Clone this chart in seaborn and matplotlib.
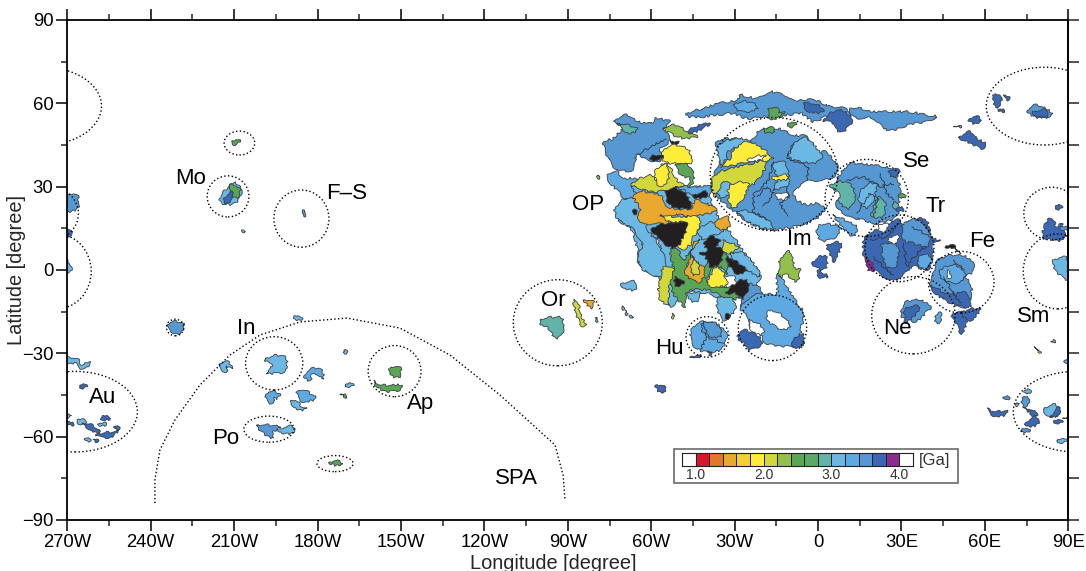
import matplotlib
matplotlib.use('Agg')
import matplotlib.pyplot as plt
import seaborn as sns
import numpy as np
import pandas as pd
from matplotlib.colors import ListedColormap, BoundaryNorm
from matplotlib.patches import Ellipse, Rectangle, PathPatch
from matplotlib.path import Path

# age bins of the colour scale [Ga]
age_edges = [0.8, 1.0, 1.2, 1.4, 1.6, 1.8, 2.0, 2.2, 2.4, 2.6, 2.8, 3.0, 3.2, 3.4, 3.6, 3.8, 4.0, 4.2]
age_colors = ['#ffffff', '#d7182a', '#e2762a', '#e9a82e', '#f3cf34', '#fdec3a', '#d2d83c', '#93c04c',
              '#5aa655', '#5aa86a', '#62b3a8', '#6cb8e4', '#5fa9e2', '#5698d2', '#3b68b3', '#8b2a92', '#ffffff']
cbar_ticks = [1.0, 2.0, 3.0, 4.0]

x_ticks = list(range(-270, 91, 30))
x_labels = ['270W', '240W', '210W', '180W', '150W', '120W', '90W', '60W', '30W', '0', '30E', '60E', '90E']
y_ticks = [-90, -60, -30, 0, 30, 60, 90]
y_labels = ['\u221290', '\u221260', '\u221230', '0', '30', '60', '90']

# (age, outline in lon/lat); None = unit without fit (black), 0.9 = hole
units_north = [
    (3.5, [(-47.2,56.4),(-41.2,58.2),(-36.4,59.8),(-29.2,61.2),(-28,63),(-22,61.8),(-17.2,64.2),(-11.2,62.6),(-8.8,61),(-1.6,61.2),(4.4,58.8),(9.2,58.2),(11.6,56.4),(10.4,54),(3.2,55.2),(-1.6,53.4),(-6.4,56.4),(-13.6,55.2),(-18.4,55.2),(-25.6,54.6),(-30.4,56.4),(-36.4,55.8),(-41.2,55.2),(-46,55.2)]),
    (3.3, [(-30,60),(-24,60.5),(-22,58),(-28,57)]),
    (3.7, [(-4,60.5),(2,58),(0,56.5),(-5,58)]),
    (2.5, [(-18,58),(-15,58.5),(-14,57),(-12,57),(-14,55),(-17,54.5)]),
    (3.7, [(-41.2,52.8),(-38.8,52.8),(-42.4,50.4),(-46,49.2),(-45.4,51)]),
    (3.5, [(11.5,58.2),(15.1,58.2),(19.9,57),(31.9,57),(39.1,55.8),(42.7,55.2),(39.1,53.4),(34.3,52.8),(27.1,50.4),(24.7,50.4),(19.9,54.6),(15.1,54.6),(11.5,55.8)]),
    (3.7, [(1.9,54),(6.7,57.6),(10.3,56.4),(12.1,53.4),(9.1,49.8),(6.7,50.4),(5.5,52.8)]),
    (3.5, [(48.7,51.6),(51.1,52.2),(51.1,51.4)]),
    (3.7, [(54.1,54),(56.5,55.4),(58.9,54),(56.5,52.6)]),
    (3.7, [(50.5,47.8),(54.7,49.8),(57.1,47.4),(60.1,45.6),(58.9,43.8),(54.7,45.6),(51.7,47)]),
    (3.7, [(63.1,63),(65.5,63),(65.7,59.4),(63.7,58.8)]),
    (3.7, [(66.7,63),(69.1,62.4),(67.9,61.2)]),
    (3.7, [(64.9,57.8),(66.7,58.2),(66.7,57),(64.9,57)]),
    (3.5, [(75.1,57),(78.7,59.4),(84.1,56.4),(79.9,54.6)]),
    (3.7, [(77.5,57),(82.3,57.6),(82.3,55.2),(78.7,55.2)]),
]

units_op = [
    (3.1, [(-67,31.2),(-68.8,25.8),(-72.4,22.2),(-71.8,18),(-67,14.4),(-64.6,6),(-64,1.2),(-56.8,-3.6),(-53.2,-13.2),(-47.2,-8.4),(-40,-8.4),(-32.8,-10.8),(-25.6,-8.4),(-20.8,-2.4),(-25.6,4.8),(-30.4,12),(-35.2,18),(-40,27.6),(-44.8,30),(-54.4,28.8)]),
    (0.9, [(-63.4,10.8),(-58.6,12),(-56.8,7.2),(-61,6)]),
    (0.9, [(-34,-2.4),(-30.4,-2.4),(-29.2,-6),(-32.8,-6)]),
    (3.5, [(-73,54),(-68.8,55.8),(-64.6,53.4),(-59.8,52.8),(-58.6,54.6),(-53.2,53.4),(-55.6,50.4),(-53.2,48.6),(-53.8,45.6),(-56.8,43.8),(-55.6,40.8),(-58,39),(-62.2,40.2),(-65.2,41.4),(-67,36),(-73.6,37.2),(-77.2,45.6),(-73.6,47.4),(-70,51.6),(-73,52.8)]),
    (2.9, [(-72,52.8),(-65,51),(-68,49.2)]),
    (2.3, [(-55.6,51),(-50.8,52.2),(-47.2,49.8),(-43.6,48),(-48.4,47.4),(-52,48.6)]),
    (3.3, [(-76,34.2),(-72.4,35.4),(-70,33),(-66.4,33),(-64,31.8),(-67,30),(-65.2,27),(-68.8,25.2),(-72.4,28.8),(-74.8,31.2)]),
    (3.1, [(-73,22.2),(-68.8,25.8),(-61.6,24.6),(-61.6,15.6),(-56.8,8.4),(-54.4,1.2),(-56.8,-2.4),(-60.4,-1.2),(-64,1.2),(-64.6,6),(-62.8,8.4),(-67,15),(-71.8,18)]),
    (1.9, [(-55.6,43.2),(-51.4,45),(-46.6,43.2),(-46,38.4),(-52,38.4),(-55.6,39)]),
    (None, [(-59.8,41.4),(-56,41),(-57,39.6),(-60,39.5)]),
    (None, [(-53,46.2),(-50,46.4),(-52,45)]),
    (2.5, [(-51.4,37.8),(-49,38.4),(-45.4,36.6),(-44.8,31.8),(-47.2,30),(-46,33),(-48.4,33.6),(-50.2,35.4)]),
    (2.1, [(-67,31.2),(-60.4,34.2),(-58,32.4),(-56.8,37.2),(-54.4,38.4),(-52,34.8),(-50.8,32.4),(-48.4,30),(-54.4,28.8),(-59.2,28.2),(-64,29.4)]),
    (1.9, [(-58.6,36),(-54.4,37.8),(-53.8,33),(-55.6,30.6),(-58,31.2)]),
    (3.3, [(-51.4,30),(-44.8,30),(-38.8,30),(-38.8,27),(-44.8,26.4),(-48.4,28.8)]),
    (1.5, [(-66.4,26.4),(-64,28.2),(-56.8,27),(-55.6,24),(-52,22.2),(-46,22.2),(-43.6,25.2),(-36.4,21.6),(-42.4,19.8),(-44.8,19.2),(-52,19.8),(-54.4,16.8),(-58,16.8),(-64,16.8),(-64.6,21),(-64,22.2)]),
    (None, [(-55,28.2),(-51.4,29.4),(-47.8,27.6),(-45.8,24),(-46.6,22.2),(-50.8,22.2),(-53.8,24)]),
    (None, [(-44.8,27),(-40,28.2),(-40,26.4),(-43.6,25.8)]),
    (None, [(-66.5,21.8),(-65,21.8),(-65.5,20.3),(-66.8,20.5)]),
    (1.9, [(-56.8,19.8),(-52,19.2),(-44.8,19.2),(-42.4,18.6),(-43,14.4),(-44.8,12),(-45.4,9.6),(-49,7.2),(-50.8,9.6),(-47.2,16.8),(-53.2,17.4)]),
    (3.1, [(-42.4,15.6),(-36.4,17.4),(-34,14.4),(-38.8,12),(-41.2,10.8),(-43,13.2)]),
    (1.5, [(-36.4,18),(-32.8,19.2),(-31.6,16.2),(-34,14.4),(-36.4,15.6)]),
    (2.5, [(-53.2,7.2),(-50.8,7.8),(-48.4,3.6),(-46.6,6),(-45.4,4.8),(-47.2,0),(-42.4,-3.6),(-41.2,1.2),(-34,7.2),(-32.8,-1.2),(-35.2,1.2),(-38.8,0),(-39.4,-4.8),(-30.4,-6.6),(-28,-9.6),(-32.8,-10.8),(-36.4,-8.4),(-40,-7.2),(-44.8,-7.2),(-47.2,-8.4),(-47.8,-13.2),(-50.2,-10.8),(-52,-8.4),(-53.2,-3.6),(-52,0)]),
    (None, [(-59.8,15),(-54.4,16.8),(-47.2,16.6),(-49,10.8),(-51.4,7.8),(-55.6,9.6),(-58,12)]),
    (None, [(-41.2,9.6),(-38.8,12),(-35.2,10.8),(-36.4,8.4),(-34,7.2),(-35.2,2.4),(-38.8,1.2),(-40.6,4.8),(-42.4,6),(-40,7.2)]),
    (2.1, [(-34,10.8),(-31.6,9.6),(-28.6,8.4),(-31.6,6),(-34,7.2)]),
    (3.1, [(-31.6,6),(-26.8,6),(-23.2,2.4),(-20.8,-2.4),(-25.6,0),(-30.4,3.6)]),
    (None, [(-32.8,4.8),(-30.4,3.6),(-25.6,0),(-29.2,-1.2),(-32.2,1.8)]),
    (1.5, [(-46.6,3),(-44.8,9.6),(-42.4,10.8),(-44.8,8.4),(-45.4,4.8),(-40.6,0),(-42.4,-4.2),(-45.4,-3.6),(-47.8,-1.2)]),
    (2.1, [(-44.8,4.8),(-42.4,-0.6),(-44.8,-1.8),(-45.4,0)]),
    (1.9, [(-36.4,1.2),(-33.4,-2.4),(-32.8,-5.4),(-37,-6),(-40,-4.8)]),
    (2.1, [(-55.6,1.2),(-52,0),(-53.8,-7.2),(-53.8,-12.6),(-57.4,-9.6),(-56.8,-3.6)]),
    (None, [(-51.4,-2.4),(-48.4,-4.2),(-49.6,-6),(-51.4,-5.4)]),
    (3.1, [(-35.2,-9.6),(-30.4,-10.8),(-29.8,-14.4),(-34,-18),(-36.4,-13.2)]),
    (None, [(-33,-15.6),(-31.5,-16),(-32,-17.4),(-33.6,-17)]),
    (3.5, [(-28,-6),(-22,-5.4),(-20.2,-9.6),(-24.4,-10.8),(-26.8,-14.4),(-28,-10.8)]),
    (None, [(-33.4,-8.4),(-28,-3.6),(-25,-4.8),(-26.8,-10.2),(-29.8,-8.4)]),
    (3.1, [(-46.6,-8.4),(-42.4,-8.4),(-43.6,-11.4),(-46,-10.8)]),
    (3.1, [(-70.6,-4.8),(-65.8,-4.2),(-65.8,-7.2),(-69.4,-6.6)]),
    (3.1, [(-70.6,-13),(-69.4,-13.4),(-69.8,-14.4)]),
    (3.1, [(-69.4,-14.4),(-68.2,-15.6),(-68.8,-16.2)]),
    (3.1, [(-67.6,-16.2),(-66.2,-16.8),(-67,-17.4)]),
    (2.1, [(-52.6,-15.6),(-51.4,-16.2),(-52.2,-17.4)]),
    (2.3, [(-79.5,34),(-78.4,34),(-78.6,32.8)]),
    (3.7, [(-58.5,-41.5),(-56,-41.5),(-54.5,-43.5),(-57,-44)]),
]

units_im = [
    (3.5, [(-36.4,46.2),(-29.2,47.4),(-24.4,46.2),(-20.8,50.4),(-14.8,51),(-8.8,48.6),(-4,48),(0.2,42),(2.6,42.6),(6.8,37.8),(6.2,34.2),(2,32.4),(-4,31.8),(-8.2,28.8),(-8.2,25.8),(-4,23.4),(0.2,24),(2,21),(-4,16.8),(-16,14.6),(-23.2,16.2),(-29.2,20.4),(-37.6,27.6),(-38.2,32.4),(-35.2,39.6)]),
    (3.1, [(-8.8,45.6),(-4,47.4),(0.8,42),(0.8,39.6),(-2.8,38.4),(-10,40.2)]),
    (3.1, [(-35.8,45),(-28.6,47.4),(-24.4,45.6),(-31.6,43.2),(-32.8,40.2),(-35.2,38.4)]),
    (3.1, [(-16,38.4),(-11.8,38.4),(-10.6,31.2),(-16,28.8),(-14.8,32.4)]),
    (3.1, [(-29.2,21),(-24.4,21),(-18.4,18),(-16,14.6),(-23.2,16.2)]),
    (3.1, [(-37.6,30),(-31.6,36),(-29.8,34.8),(-31.6,27.6),(-35.2,26.4)]),
    (2.1, [(-37.6,33.6),(-31.6,36.6),(-25.6,37.8),(-18.4,39.6),(-20.8,33.6),(-25,30),(-31.6,31.2),(-34,31.8),(-37.6,26.4)]),
    (1.9, [(-35.2,37.2),(-31.6,40.2),(-30.4,43.2),(-24.4,46.2),(-17.2,41.4),(-17.2,39.6),(-24.4,39),(-30.4,37.8)]),
    (0.9, [(-25,40.2),(-19,41.4),(-20.8,39.6),(-24.4,39.4)]),
    (1.9, [(-31.6,30.6),(-25,31.2),(-27.4,25.2),(-30.4,22.2),(-32.2,25.2)]),
    (1.9, [(-16,33.6),(-11.2,34.2),(-11.2,32.6),(-15.4,32.4)]),
    (0.9, [(-14.8,27.6),(-11.2,27.6),(-11.2,25.2),(-14.8,25.8)]),
    (2.5, [(-11,52.6),(-9.5,53.4),(-8,52.6),(-9.5,51)]),
    (2.5, [(-19.6,50.4),(-17.2,51.6),(-15.4,49.8),(-18.4,49.4)]),
    (3.2, [(0.1,16.2),(7.9,15.6),(5.5,11.4),(0.7,10.8)]),
    (3.7, [(3.1,9),(8.5,9.6),(5.5,3),(4.3,6)]),
    (3.7, [(-2.3,2.6),(2.5,5.4),(3.1,1.2),(0.7,0),(3.7,-2.4),(-0.5,-2.4),(0.1,0.6)]),
    (2.3, [(-13.7,3.6),(-10.1,6.6),(-8.3,0.6),(-6.5,0),(-7.7,-4.2),(-11.3,-1.8),(-13.7,-2.4)]),
]

units_east = [
    (3.5, [(9.1,36),(12.1,38.4),(18.7,37.8),(27.1,36),(29.5,28.8),(28.9,22.8),(28.3,19.2),(21.1,16.8),(16.3,18),(11.5,19.2),(6.7,22.8),(7.9,27.6),(5.5,30)]),
    (2.9, [(4.3,30.6),(10.3,31.8),(13.3,27.6),(11.5,22.2),(7.9,24),(7.3,27.6)]),
    (3.1, [(15.1,28.8),(21.1,31.2),(18.7,22.8),(15.1,24)]),
    (2.8, [(21.7,26.4),(24.1,24),(23.5,19.2),(19.3,19.8)]),
    (2.8, [(27.1,24.6),(28.9,24),(28.9,21.6),(27.1,22.2)]),
    (2.5, [(28.9,27),(30.1,27.8),(31.3,26.8),(30.1,25.6)]),
    (3.7, [(25.3,35.4),(27.7,36.6),(29.3,35),(27.1,33.4)]),
    (3.7, [(28.3,22.2),(30.1,23),(30.5,21.4),(28.5,21)]),
    (3.3, [(5.5,19.8),(13.9,15.6),(11.5,12.6),(6.7,18)]),
    (3.7, [(16.9,12),(21.1,14.4),(28.3,18),(30.7,16.8),(36.7,18.6),(39.1,18),(40.9,12),(43.9,10.8),(41.5,9.6),(40.9,3.6),(39.1,0),(34.3,1.2),(29.5,-2.4),(25.9,-3.6),(21.1,-0.6),(18.1,1.2),(16.3,6)]),
    (3.5, [(30.7,16.8),(36.7,18),(40.3,12),(39.1,8.4),(34.3,9.6),(30.7,10.8)]),
    (3.3, [(39.1,6),(40.9,3.6),(39.1,0.6),(36.1,1.2),(36.7,4.8)]),
    (3.5, [(23.5,9.6),(28.9,8.4),(27.7,1.2),(24.7,1.2),(22.9,6)]),
    (0.9, [(21.7,16.2),(24.7,16.8),(24.9,14.4),(22.3,13.8)]),
    (0.9, [(25.3,11.4),(28.3,12.6),(28.9,10.2),(26.5,9.6)]),
    (3.9, [(17.3,4.8),(19.3,2.4),(20.5,0),(18.1,0)]),
    (3.5, [(43.9,4.2),(51.1,5.4),(55.3,3),(55.9,-0.6),(52.9,-2.4),(55.3,-6),(53.5,-13.2),(48.7,-12),(42.7,-8.4),(40.3,-4.8),(41.5,-1.2)]),
    (3.7, [(40.3,-5.4),(46.3,-8.4),(53.5,-8.4),(54.7,-13.2),(49.3,-12.6),(42.7,-9)]),
    (3.3, [(45.1,1.2),(51.1,1.2),(52.9,-2.4),(48.7,-4.8),(43.9,-2.4)]),
    (0.9, [(46.9,0),(48.1,-2.4),(46.3,-2.4)]),
    (3.7, [(48.1,-16.2),(51.1,-15),(53.5,-18),(51.7,-22.8),(49.9,-19.8)]),
    (3.7, [(51.7,-15),(58.3,-13.8),(55.9,-17.4),(53.5,-18)]),
    (None, [(45.7,8.4),(48.1,9.2),(50.5,6.9),(51.1,6),(48.7,7.8)]),
    (3.5, [(29.7,-15),(31.9,-11.4),(36.7,-10.8),(40.3,-13.2),(39.1,-15),(35.5,-18.6),(33.1,-18),(30.7,-17.4)]),
    (3.7, [(31.3,-13.8),(36.7,-13.2),(34.3,-16.8),(32.5,-18),(31.3,-18.6)]),
    (3.3, [(42.1,-16.8),(43.7,-15),(44.5,-18),(42.7,-19.2)]),
    (3.7, [(85.3,22.8),(86.5,23.8),(87.7,22.6),(86.5,21.4)]),
    (3.7, [(82.3,18),(84.1,18.6),(85.9,15.6),(87.7,16.8),(88.3,10.8),(82.3,11.4),(80.5,12)]),
    (3.5, [(87.1,15.6),(89.5,15.8),(89.7,14.4),(87.7,14.2)]),
    (3.1, [(84.7,3.6),(89.5,4.2),(89.5,-3),(87.7,-2.4),(85.3,0)]),
    (2.9, [(83.9,-25.8),(85.3,-25.8),(84.6,-25)]),
    (2.1, [(77.7,-27.6),(80.1,-29.4),(79.3,-29.4)]),
    (3.3, [(88.3,-33),(90,-31.8),(90,-34.2)]),
]

units_south_east = [
    (3.3, [(-45.4,-21),(-41.2,-18.6),(-35.8,-19.8),(-32.8,-24),(-35.2,-28.8),(-41.2,-29.4),(-45.4,-26.4)]),
    (3.5, [(-41.2,-18.6),(-35.8,-19.8),(-35.2,-24),(-41.2,-22.8)]),
    (3.7, [(-46,-31.2),(-42.4,-30.6),(-43.6,-31.8)]),
    (3.7, [(-40,-29.4),(-38.2,-29.4),(-38.8,-30.6)]),
    (3.2, [(-14.8,-1.2),(-11.2,-6),(-7.6,-12),(-5.2,-15.6),(-6.4,-24),(-4.6,-26.4),(-8.8,-27.6),(-18.4,-26.4),(-20.8,-22.8),(-24.4,-20.4),(-25.6,-15.6),(-28,-14.4),(-24.4,-9.6),(-19.6,-8.4),(-14.8,-8.4)]),
    (0.9, [(-17.2,-14.4),(-12.4,-16.8),(-10,-20.4),(-13.6,-21),(-18.4,-18)]),
    (0.9, [(-24.4,-18),(-19.6,-21),(-20.8,-23.4),(-24.4,-21)]),
    (3.7, [(-29.2,-24),(-26.8,-21.6),(-22,-23.4),(-20.2,-26.4),(-24.4,-28.8),(-26.8,-26.4)]),
    (3.7, [(-8.8,-24.6),(-5.2,-23.4),(-5.8,-27.6),(-8.8,-27.6)]),
    (2.9, [(-100,-18),(-96,-17),(-92,-17.5),(-92,-23),(-94.5,-24.5),(-97,-21),(-99,-20.5)]),
    (2.1, [(-88,-11),(-86.5,-11.5),(-85,-17),(-83.5,-19.5),(-85,-20),(-87,-16)]),
    (1.5, [(-84.4,-10.8),(-80.8,-11.4),(-81.4,-13.8)]),
    (3.1, [(-80.2,-17.4),(-79.4,-17),(-79.4,-18.6)]),
    (3.5, [(66.5,-46),(67.9,-45.1),(68.7,-46),(67.9,-46.9)]),
    (3.7, [(61.3,-49.8),(63.7,-51),(67.9,-50.6),(67.3,-52.2),(63.7,-52.6),(61.3,-51)]),
    (3.1, [(74.1,-43.6),(75.4,-42.6),(76.4,-43.6),(75.4,-44.8)]),
    (3.5, [(73.3,-46.2),(75.3,-45.4),(75.7,-48.6),(73.9,-49.4)]),
    (3.1, [(71.1,-48),(72.5,-47.8),(71.7,-49)]),
    (3.7, [(73.9,-49.4),(76.3,-50.2),(75.3,-50.8)]),
    (3.7, [(76.3,-50.6),(77.9,-50.4),(78.7,-52.2),(76.9,-52.8)]),
    (3.6, [(74.5,-55.2),(77.5,-53),(79.3,-53.4),(79.3,-55.2),(76.9,-56.4)]),
    (3.5, [(73.1,-57.4),(74.5,-56.8),(76.1,-57.6),(74.5,-58.8)]),
    (3.1, [(81.1,-49.8),(85.3,-48.4),(86.9,-50.4),(86.5,-52.2),(83.5,-52.8),(81.7,-51.4)]),
    (3.7, [(83.5,-52.8),(86.9,-49.2),(86.5,-52.2)]),
    (3.6, [(84.7,-54.4),(86.3,-53.6),(87.8,-54.6),(86.3,-55.6)]),
    (3.6, [(87.9,-53.4),(90,-52.8),(90,-53.8)]),
    (3.1, [(85.9,-61.4),(87.7,-60.5),(89.5,-61.4),(87.7,-62.6)]),
]

units_farside = [
    (3.1, [(-270,-31.2),(-266,-32.4),(-264.8,-34.2),(-262.4,-33),(-261.8,-34.2),(-265.4,-35.4),(-267.2,-33.6),(-270,-33.8)]),
    (3.7, [(-265.6,-41.8),(-264.4,-40.8),(-263,-41.8),(-264.4,-43)]),
    (3.1, [(-270,-51.8),(-268.4,-52.2),(-270,-53)]),
    (3.7, [(-270,-54.6),(-268,-54.6),(-268,-55.8),(-270,-55.8)]),
    (3.1, [(-266.6,-54),(-264.2,-53.4),(-263.6,-55.2),(-265.4,-55.8)]),
    (3.7, [(-264.8,-55.2),(-261.2,-55.8),(-258.2,-58.2),(-259.4,-58.8),(-262.4,-57)]),
    (3.7, [(-257.6,-52.6),(-255.8,-52.2),(-254.8,-53.4),(-256.4,-54.4),(-257.8,-53.8)]),
    (3.1, [(-258.8,-55.4),(-256.4,-54.6),(-256.4,-55.8),(-258.2,-56.4)]),
    (3.7, [(-259.4,-59),(-253.4,-58.2),(-251.6,-57.8),(-254,-60),(-258.2,-60.2)]),
    (3.6, [(-253.4,-56.6),(-252.2,-55.8),(-251.2,-56.6),(-252.2,-57.6)]),
    (3.1, [(-264,-61),(-262.8,-60.1),(-261.6,-61),(-262.8,-61.8)]),
    (3.6, [(-260.8,-61.2),(-259.6,-60.6),(-258.6,-61.2),(-259.6,-61.8)]),
    (3.4, [(-234.2,-20.4),(-232.4,-18.6),(-228.2,-19.2),(-228.8,-22.2),(-231.2,-22.8)]),
    (3.1, [(-198.8,-31.8),(-192.8,-30.6),(-191,-33),(-192.2,-36.6),(-198.2,-37.2),(-196.4,-34.8),(-197.6,-33.6)]),
    (3.1, [(-215.6,-34.2),(-213.2,-32.8),(-210.8,-34.2),(-210.8,-35.4),(-212.6,-34.8),(-212.6,-36.6),(-214.4,-36)]),
    (3.1, [(-188.6,-16.8),(-187.4,-16.2),(-185.6,-17.4),(-187.4,-18.4)]),
    (3.3, [(-185,-38.4),(-182.6,-35.8),(-179,-35.4),(-177.8,-39),(-180.2,-37.4),(-182,-37.8),(-182.6,-40)]),
    (3.1, [(-170.6,-29.2),(-169.8,-28.4),(-169,-29.2),(-169.8,-30)]),
    (3.1, [(-170,-41.4),(-168.6,-40.4),(-167.2,-41.4),(-168.6,-42.4)]),
    (2.5, [(-172,-44.8),(-170,-44.4),(-169.8,-45.8),(-170.8,-45.4)]),
    (3.2, [(-187.4,-43.8),(-185,-43.2),(-180.8,-45.6),(-181.4,-46.8),(-185,-47.4),(-186.8,-46.2)]),
    (3.1, [(-189.8,-47.4),(-188,-46.8),(-185.6,-49.2),(-184,-49.8),(-186.8,-50.4)]),
    (3.2, [(-198.8,-45.6),(-197.6,-43.8),(-193.4,-44.4),(-194.6,-46.2),(-195.8,-46.2),(-195.8,-47.4),(-197.6,-47.8)]),
    (3.5, [(-202,-55.8),(-194,-56.2),(-194.6,-57.6),(-196.4,-58.2),(-195.8,-60.6),(-198.8,-59.4),(-200,-58.2)]),
    (3.1, [(-194,-57.4),(-189.8,-56.2),(-188,-57),(-189.2,-58.8),(-192.2,-58.8)]),
    (2.5, [(-176,-69.4),(-173.6,-68.6),(-170.8,-69.6),(-173,-70.4)]),
    (2.5, [(-154,-35.4),(-152,-34.6),(-150.2,-35.4),(-150.2,-38.4),(-153.2,-38.2)]),
    (2.5, [(-159.8,-39.6),(-157.4,-41.4),(-150.2,-41.4),(-150.8,-43.2),(-155,-43.8),(-158.6,-42.2)]),
    (3.1, [(-215.5,25),(-213,29),(-210,31.5),(-207.5,29),(-208.5,25),(-212,23.5)]),
    (2.5, [(-211,31),(-208,29),(-208.5,26),(-211,27)]),
    (3.7, [(-214,25.5),(-211,28),(-210.5,26),(-212.5,24)]),
    (2.5, [(-211,46.2),(-209.5,47),(-208,46.5),(-209.5,44.8)]),
    (3.5, [(-185.5,21.5),(-184.5,21.5),(-184.5,19.5),(-185.5,20)]),
    (3.1, [(-207,14.5),(-205.8,14),(-206.5,13.3)]),
    (3.5, [(-270,27),(-266.5,27),(-266,22.5),(-269,21),(-270,22)]),
    (3.7, [(-270,14.5),(-268,14),(-269,12.5),(-270,11.5)]),
    (3.1, [(-270,4),(-268.5,0),(-270,-1)]),
]

# thin contacts between units inside the big basins
contacts = [
    [(-8.8,45.6),(-11.2,40.2),(-3.4,37.2),(-4,32.4)],
    [(-16,39),(-17.8,32.4),(-23.2,27),(-23.2,21),(-18.4,18)],
    [(-22,26.4),(-18.4,30),(-16,27.6),(-19.6,22.8)],
    [(-11.2,30),(-10.6,26.4),(-13.6,24),(-11.2,19.2)],
    [(10.3,32.4),(16.3,33.6),(22.3,30),(27.1,31.2)],
    [(13.9,20.4),(18.7,27.6),(21.7,25.2),(19.9,19.2)],
    [(22.3,34.8),(24.7,27.6),(27.1,25.2)],
    [(18.7,10.8),(24.7,12),(29.5,16.8)],
    [(19.9,4.8),(23.5,1.2),(27.1,-2)],
    [(30.7,9.6),(31.9,1.2),(36.7,7.2),(39.1,8.4)],
    [(33.7,15.6),(41.5,11.4)],
    [(45.1,-2.4),(48.7,-8.4),(51.1,-12)],
    [(48.7,3.6),(52.3,0)],
    [(-41.2,-18.6),(-40,-24),(-42.4,-28.8)],
    [(-40,-24),(-34,-26.4)],
    [(-65.2,41.4),(-58,45.6),(-54.4,46.8)],
]

# basins: lon, lat, half width, half height [degree]
basins = [
    (81.4, 59, 20.9, 14), (-208.1, 45.7, 5.5, 4.3), (-212.2, 26.5, 7.5, 7.4), (-185.8, 18.5, 9.9, 10.3),
    (-231.2, -20.7, 3.1, 3), (-195.6, -33.6, 10.3, 9.6), (-152.3, -36.4, 9.5, 9.2), (-197.5, -57.3, 9, 4.7),
    (-173.7, -69.7, 6.5, 2.9), (92.7, -51, 22.5, 14.5), (86.2, -0.5, 12.4, 13.5), (84, 20.3, 10, 9.5),
    (-15.8, 34.5, 23, 20.4), (17.5, 25.9, 15, 13.9), (29.3, 7.8, 12.4, 12), (51.5, -4.4, 11.8, 11.1),
    (34.3, -16.3, 15, 13.9), (-16.4, -20.8, 12.3, 11.8), (-39.8, -24.1, 7.7, 7.3), (-93.6, -19, 16, 15.5),
]

spa_lon = [-238.5, -238.5, -236.7, -231.3, -222.3, -211.5, -200.7, -186.3, -169.4, -150.4, -132.4, -114.4, -94.6, -91.7, -91]
spa_lat = [-83.9, -75.6, -64.8, -54, -41.4, -30.6, -23.4, -18.7, -17.3, -20.9, -30.6, -45, -63, -73.8, -82.8]

names = ['Mo', 'F\u2013S', 'OP', 'Se', 'Tr', 'Fe', 'Im', 'Sm', 'Ne', 'Hu', 'Or', 'In', 'Au', 'Po', 'Ap', 'SPA']
name_lon = [-225.5, -169.4, -82.7, 35.5, 42.1, 58.9, -6.8, 77.7, 28.4, -53.6, -95.3, -205.8, -257.2, -213, -142.8, -108.3]
name_lat = [33, 27.7, 23.4, 39, 22.7, 10.4, 11.1, -16.8, -21.2, -28.1, -10.8, -21.2, -46, -60.5, -48.2, -74.9]


def outline_path(outline):
    # closed bezier through the read points, so the units do not look like cut glass
    pts = np.array(outline, dtype=float)
    n = len(pts)
    verts = [pts[0]]
    codes = [Path.MOVETO]
    for i in range(n):
        p0, p1, p2, p3 = pts[i - 1], pts[i], pts[(i + 1) % n], pts[(i + 2) % n]
        verts += [p1 + (p2 - p0) / 6, p2 - (p3 - p1) / 6, p2]
        codes += [Path.CURVE4] * 3
    return Path(verts, codes)


sns.set_style('ticks')
plt.rcParams['font.family'] = ['Liberation Sans', 'DejaVu Sans']
plt.rcParams['axes.unicode_minus'] = True

fig = plt.figure(figsize=(10.86, 5.71), dpi=100)
ax = fig.add_axes([67.3 / 1086, 51 / 571, 1001 / 1086, 500 / 571])

cmap = ListedColormap(age_colors)
norm = BoundaryNorm(age_edges, cmap.N)

# geologic units, older lists first so the overlaps look right
for group in [units_north, units_op, units_im, units_east, units_south_east, units_farside]:
    for age, outline in group:
        color = '#231f20' if age is None else cmap(norm(age))
        patch = PathPatch(outline_path(outline), facecolor=color, edgecolor='#3a3f45', linewidth=0.6)
        # rough edges like the mapped boundaries
        patch.set_sketch_params(scale=1.1, length=14, randomness=8)
        ax.add_patch(patch)

for line in contacts:
    xs, ys = zip(*line)
    drawn, = ax.plot(xs, ys, color='#30353b', linewidth=0.6)
    drawn.set_sketch_params(scale=1.2, length=14, randomness=8)

# basin rings, the ones cut by the map edge come back on the other side
for lon, lat, rx, ry in basins:
    for shift in [0, -360]:
        ax.add_patch(Ellipse((lon + shift, lat), 2 * rx, 2 * ry, fill=False, edgecolor='black',
                             linewidth=1.0, linestyle=(0, (1, 1.7)), zorder=5))

spa = pd.DataFrame({'lon': spa_lon, 'lat': spa_lat})
sns.lineplot(data=spa, x='lon', y='lat', sort=False, estimator=None, color='black',
             linewidth=1.0, linestyle=(0, (1, 1.7)), ax=ax, zorder=5)

for name, lon, lat in zip(names, name_lon, name_lat):
    ax.text(lon, lat, name, fontsize=16, ha='center', va='center', color='black', zorder=6)

ax.set_xlim(-270, 90)
ax.set_ylim(-90, 90)
ax.set_xticks(x_ticks)
ax.set_xticklabels(x_labels, fontsize=13.3)
ax.set_yticks(y_ticks)
ax.set_yticklabels(y_labels, fontsize=13.3)
ax.set_xticks(list(range(-255, 90, 30)), minor=True)
ax.set_yticks(list(range(-75, 90, 30)), minor=True)
ax.tick_params(which='major', length=8, width=1.1, top=True, right=False, pad=2, color='black', labelcolor='black')
ax.tick_params(which='minor', length=4, width=1.1, top=True, right=False)
ax.set_xlabel('Longitude [degree]', fontsize=14.4)
ax.set_ylabel('Latitude [degree]', fontsize=14.4)
ax.xaxis.set_label_coords(0.485, -0.068)
ax.yaxis.set_label_coords(-0.041, 0.5)
for side in ax.spines.values():
    side.set_visible(True)
    side.set_linewidth(1.3)
    side.set_color('black')

# right side has the same length ticks every 15 degree
right = ax.secondary_yaxis('right')
right.set_yticks(list(range(-90, 91, 15)))
right.set_yticklabels([])
right.tick_params(length=8, width=1.1)
right.spines['right'].set_linewidth(1.3)

# colour scale box
fig.add_artist(Rectangle((674 / 1086, 1 - 482.5 / 571), 284 / 1086, 33.5 / 571, transform=fig.transFigure,
                         facecolor='white', edgecolor='#6b6b6b', linewidth=1.2, zorder=8))
cax = fig.add_axes([682 / 1086, 1 - 465.5 / 571, 231 / 1086, 12.5 / 571], zorder=9)
mids = [[(a + b) / 2 for a, b in zip(age_edges[:-1], age_edges[1:])]]
sns.heatmap(mids, cmap=cmap, norm=norm, cbar=False, linewidths=0.6, linecolor='#222222',
            xticklabels=False, yticklabels=False, ax=cax)
for side in cax.spines.values():
    side.set_visible(True)
    side.set_linewidth(0.8)
    side.set_color('#222222')
cax.set_xticks([(t - age_edges[0]) / 0.2 for t in cbar_ticks])
cax.set_xticklabels(['%.1f' % t for t in cbar_ticks], fontsize=10, color='#333333')
cax.tick_params(axis='x', length=0, pad=2)
fig.text(919 / 1086, 1 - 461 / 571, '[Ga]', fontsize=12, color='#333333', va='center', ha='left', zorder=10)

fig.savefig('out.png', dpi=100)
